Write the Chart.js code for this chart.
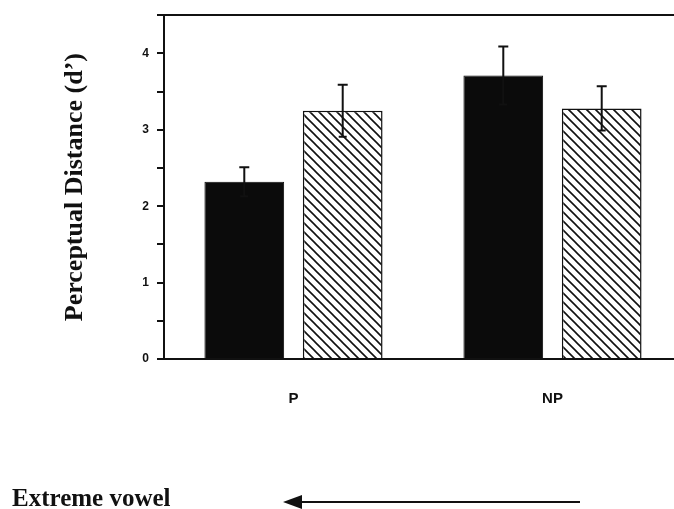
<!DOCTYPE html>
<html>
<head>
<meta charset="utf-8">
<script src="https://cdn.jsdelivr.net/npm/chart.js@4.4.1/dist/chart.umd.min.js"></script>
<style>
  html, body { margin: 0; padding: 0; background: #fff; overflow: hidden; }
  #wrap { width: 674px; height: 509px; overflow: hidden; }
</style>
</head>
<body>
<div id="wrap"><canvas id="chart" width="700" height="509"></canvas></div>
<script>
// data
const groups = ['P', 'NP'];
const blackValues = [2.32, 3.71];
const blackErrors = [0.19, 0.38];
const hatchValues = [3.25, 3.28];
const hatchErrors = [0.34, 0.29];
const yMax = 4.5;

// diagonal hatch fill
function hatch() {
    const s = 9;
    const c = document.createElement('canvas');
    c.width = s; c.height = s;
    const g = c.getContext('2d');
    g.fillStyle = '#fff';
    g.fillRect(0, 0, s, s);
    g.strokeStyle = '#111';
    g.lineWidth = 1.6;
    g.beginPath();
    g.moveTo(-1, -1); g.lineTo(s + 1, s + 1);
    g.moveTo(-1, s - 1); g.lineTo(1, s + 1);
    g.moveTo(s - 1, -1); g.lineTo(s + 1, 1);
    g.stroke();
    return g.createPattern(c, 'repeat');
}

const errorBars = {
    id: 'errorBars',
    afterDatasetsDraw(chart) {
        const ctx = chart.ctx;
        const y = chart.scales.y;
        ctx.save();
        ctx.strokeStyle = '#111';
        ctx.lineWidth = 2;
        chart.data.datasets.forEach((ds, i) => {
            chart.getDatasetMeta(i).data.forEach((bar, j) => {
                const top = y.getPixelForValue(ds.data[j] + ds.errors[j]);
                const bot = y.getPixelForValue(ds.data[j] - ds.errors[j]);
                ctx.beginPath();
                ctx.moveTo(bar.x, bot); ctx.lineTo(bar.x, top);
                ctx.moveTo(bar.x - 5, top); ctx.lineTo(bar.x + 5, top);
                ctx.moveTo(bar.x - 4, bot); ctx.lineTo(bar.x + 4, bot);
                ctx.stroke();
            });
        });
        ctx.restore();
    }
};

// caption and arrow under the plot
const caption = {
    id: 'caption',
    afterDraw(chart) {
        const ctx = chart.ctx;
        ctx.save();
        ctx.fillStyle = '#111';
        ctx.font = 'bold 25px "Liberation Serif", "Times New Roman", serif';
        ctx.textBaseline = 'alphabetic';
        ctx.fillText('Extreme vowel', 12, 506);
        ctx.strokeStyle = '#111';
        ctx.lineWidth = 2;
        ctx.beginPath();
        ctx.moveTo(580, 502); ctx.lineTo(295, 502);
        ctx.stroke();
        ctx.beginPath();
        ctx.moveTo(283, 502); ctx.lineTo(302, 495); ctx.lineTo(302, 509); ctx.closePath();
        ctx.fill();
        ctx.restore();
    }
};

new Chart(document.getElementById('chart'), {
    type: 'bar',
    data: {
        labels: groups,
        datasets: [{
            label: 'black',
            data: blackValues,
            errors: blackErrors,
            backgroundColor: '#0b0b0b',
            borderColor: '#0b0b0b',
            borderWidth: 1
        }, {
            label: 'hatched',
            data: hatchValues,
            errors: hatchErrors,
            backgroundColor: hatch(),
            borderColor: '#111',
            borderWidth: 1.5
        }]
    },
    options: {
        responsive: false,
        animation: false,
        categoryPercentage: 0.76,
        barPercentage: 0.81,
        layout: { padding: { top: 15, right: 18, left: 0, bottom: 0 } },
        plugins: { legend: { display: false }, tooltip: { enabled: false } },
        scales: {
            x: {
                grid: { display: false, drawTicks: false },
                border: { display: true, color: '#111', width: 2 },
                ticks: {
                    padding: 31,
                    color: '#111',
                    font: { family: '"Liberation Sans", Arial, sans-serif', size: 15, weight: 'bold' }
                },
                afterFit(scale) { scale.height = 150; }
            },
            x2: {
                position: 'top',
                labels: groups,
                grid: { display: false, drawTicks: false },
                border: { display: true, color: '#111', width: 2 },
                ticks: { display: false },
                afterFit(scale) { scale.height = 0; }
            },
            y: {
                min: 0,
                max: yMax,
                grid: { drawOnChartArea: false, drawTicks: true, tickLength: 7, color: '#111', lineWidth: 2 },
                border: { display: true, color: '#111', width: 2 },
                ticks: {
                    stepSize: 0.5,
                    padding: 8,
                    color: '#111',
                    font: { family: '"Liberation Sans", Arial, sans-serif', size: 12, weight: 'bold' },
                    callback: v => Number.isInteger(v) ? String(v) : ''
                },
                title: {
                    display: true,
                    text: "Perceptual Distance (d’)",
                    color: '#111',
                    padding: { top: 60, bottom: 0 },
                    font: { family: '"Liberation Serif", "Times New Roman", serif', size: 26, weight: 'bold' }
                },
                afterFit(scale) { scale.width = 164; }
            }
        }
    },
    plugins: [errorBars, caption]
});
</script>
</body>
</html>
